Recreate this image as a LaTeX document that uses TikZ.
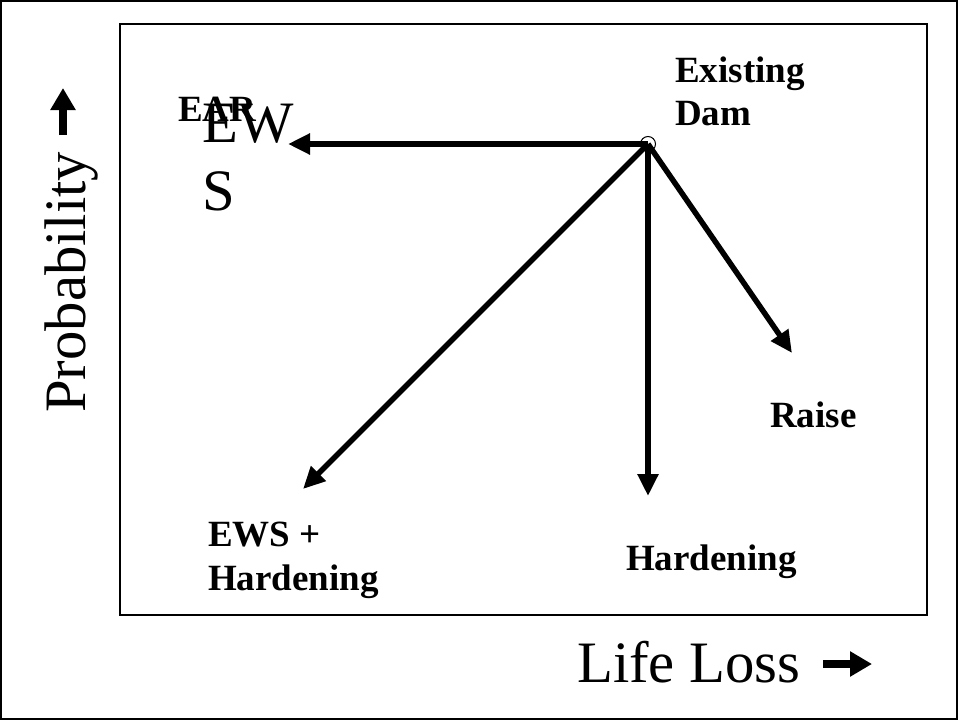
\documentclass[tikz,border=0pt]{standalone}
\usepackage{fontspec}
\setmainfont{Liberation Serif}
\usetikzlibrary{arrows.meta}
\begin{document}
\begin{tikzpicture}[x=1pt,y=-1pt,
  conn/.style={line width=5.5pt,-{Triangle[length=22pt,width=20pt]}},
  lab/.style={font=\fontsize{37}{43}\selectfont\bfseries,inner sep=0pt,align=left},
  big/.style={font=\fontsize{58.7}{68}\selectfont,inner sep=0pt,align=left},
  axarrow/.style={line width=8pt,-{Triangle[length=22pt,width=24pt]}}]
\useasboundingbox (0,0) rectangle (958,720);
\draw[line width=2pt] (1,1) rectangle (957,719);
\draw[line width=1.5pt] (120,24) rectangle (927,615);
% dam point
\coordinate (dam) at (648,144);
\draw[line width=1pt,fill=white] (dam) circle (7.5pt);
% arrow tips
\coordinate (tEWS) at (288,144);
\coordinate (tEH) at (303,489);
\coordinate (tH) at (648,496);
\coordinate (tR) at (792,353);
\draw[conn] (dam) -- (tEWS);
\draw[conn] (dam) -- (tEH);
\draw[conn] (dam) -- (tH);
\draw[conn] (dam) -- (tR);
% labels
\node[lab,anchor=north west] (existing) at (675,57) {Existing\\Dam};
\node[lab,anchor=base west] (ear) at (178,121) {EAR};
\node[big,anchor=north west] (ews) at (202,104) {EW\\S};
\node[lab,anchor=base west] (raise) at (770,427) {Raise};
\node[lab,anchor=base west] (hard) at (626,570) {Hardening};
\node[lab,font=\fontsize{37}{44}\selectfont\bfseries,anchor=north west] (ewsh) at (208,522) {EWS +\\Hardening};
% axes
\node[big,rotate=90,anchor=base west] (prob) at (85,413) {Probability};
\node[big,anchor=base west] (life) at (577,682) {Life Loss};
\coordinate (pa1) at (63,135);
\coordinate (pa2) at (63,88);
\coordinate (la1) at (823,664);
\coordinate (la2) at (872,664);
\draw[axarrow] (pa1) -- (pa2);
\draw[axarrow] (la1) -- (la2);
\end{tikzpicture}
\end{document}
